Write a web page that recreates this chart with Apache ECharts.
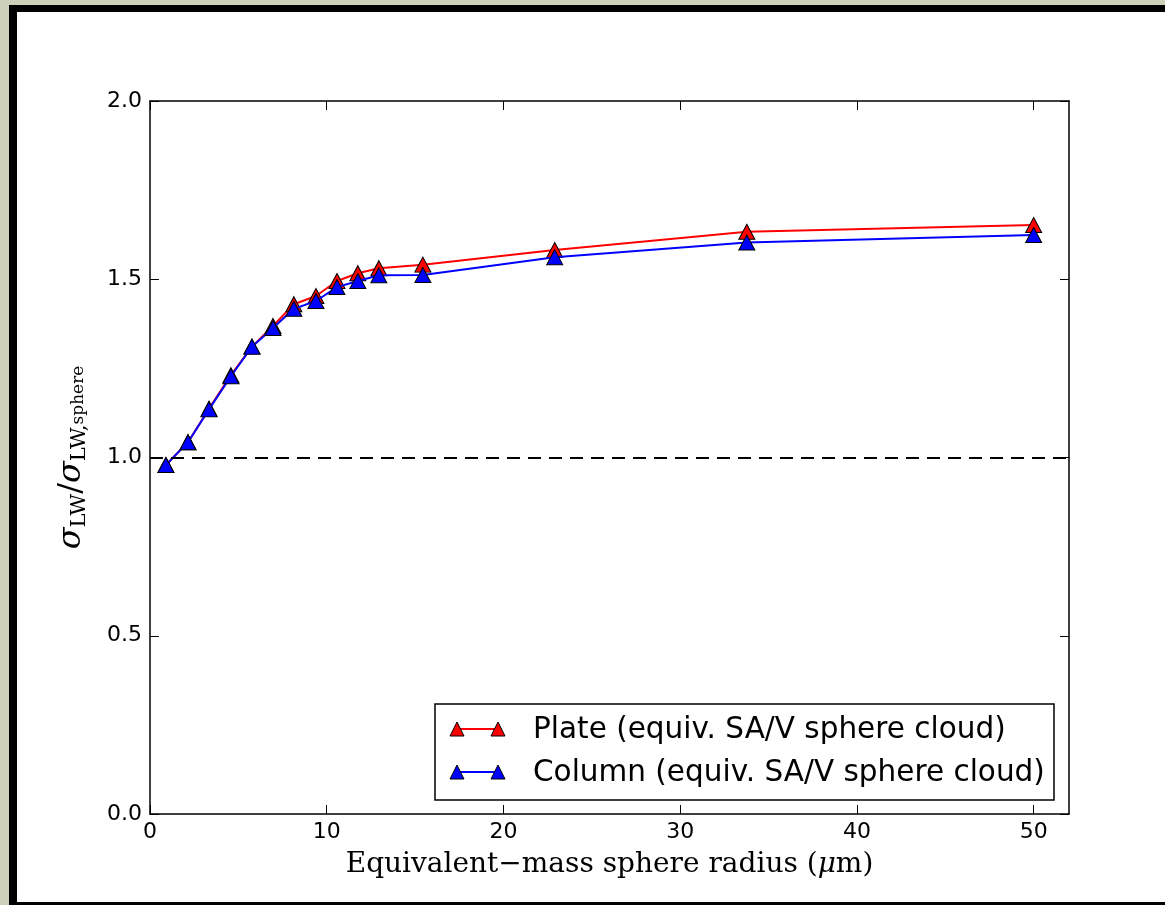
<!DOCTYPE html>
<html>
<head>
<meta charset="utf-8">
<script src="https://cdn.jsdelivr.net/npm/echarts@6/dist/echarts.min.js"></script>
<style>
    body { margin: 0; background: #cdd1b9; }
    #frame {
        position: absolute; left: 9px; top: 5px; width: 1156px; height: 900px;
        box-sizing: border-box; background: #fff;
        border-left: 8px solid #000; border-top: 7px solid #000; border-bottom: 3px solid #000;
    }
    #chart { position: absolute; left: 0; top: 0; width: 1165px; height: 905px; }
</style>
</head>
<body>
<div id="frame"></div>
<div id="chart"></div>
<script>
// 粒子半径 (um)
var radius = [0.9, 2.15, 3.34, 4.58, 5.77, 6.96, 8.14, 9.39, 10.58, 11.76, 12.95, 15.44, 22.9, 33.77, 50];
// 两条曲线
var plate = [0.979, 1.043, 1.137, 1.231, 1.311, 1.369, 1.430, 1.453, 1.495, 1.517, 1.531, 1.541, 1.582, 1.633, 1.652];
var column = [0.979, 1.043, 1.135, 1.228, 1.311, 1.363, 1.417, 1.439, 1.478, 1.495, 1.511, 1.512, 1.562, 1.603, 1.624];
var xTicks = [0, 10, 20, 30, 40, 50];
var yTicks = [0, 0.5, 1.0, 1.5, 2.0];

function pairs(ys) {
    return radius.map(function (x, i) { return [x, ys[i]]; });
}

var chart = echarts.init(document.getElementById('chart'));
var tickFont = { fontFamily: 'DejaVu Sans', fontSize: 22, color: '#000' };
var serif = 'DejaVu Serif';
var axLine = { show: true, onZero: false, lineStyle: { color: '#000', width: 1.5 } };
var tick = { show: true, inside: true, length: 9, lineStyle: { color: '#000', width: 1 } };

var option = {
    animation: false,
    grid: { left: 150, right: 96, top: 101, bottom: 91 },
    xAxis: [
        {
            type: 'value', min: 0, max: 52, position: 'bottom',
            axisLine: axLine,
            axisTick: Object.assign({ customValues: xTicks }, tick),
            axisLabel: Object.assign({ margin: 7, customValues: xTicks, formatter: function (v) { return v; } }, tickFont),
            splitLine: { show: false },
            name: 'Equivalent\u2212mass sphere radius ({i|\u03bc}m)',
            nameLocation: 'middle', nameGap: 37,
            nameTextStyle: {
                fontFamily: serif, fontSize: 28, color: '#000',
                rich: { i: { fontFamily: serif, fontStyle: 'italic', fontSize: 28, color: '#000' } }
            }
        },
        {
            type: 'value', min: 0, max: 52, position: 'top',
            axisLine: axLine,
            axisTick: Object.assign({ customValues: xTicks }, tick),
            axisLabel: { show: false },
            splitLine: { show: false }
        }
    ],
    yAxis: [
        {
            type: 'value', min: 0, max: 2, interval: 0.5, position: 'left',
            axisLine: axLine,
            axisTick: Object.assign({ customValues: yTicks }, tick),
            axisLabel: Object.assign({ margin: 8, customValues: yTicks, formatter: function (v) { return v.toFixed(1); } }, tickFont),
            splitLine: { show: false },
            name: '{s|\u03c3}{b|LW}{n|/}{s|\u03c3}{b|LW,}{c|sphere}',
            nameLocation: 'middle', nameRotate: 90, nameGap: 58,
            nameTextStyle: {
                rich: {
                    s: { fontFamily: serif, fontStyle: 'italic', fontSize: 32, color: '#000', lineHeight: 40 },
                    n: { fontFamily: serif, fontSize: 32, color: '#000', lineHeight: 40 },
                    b: { fontFamily: serif, fontSize: 21, color: '#000', lineHeight: 40, padding: [16, 0, 0, 0] },
                    c: { fontFamily: serif, fontSize: 17, color: '#000', lineHeight: 40, padding: [14, 0, 0, 0] }
                }
            }
        },
        {
            type: 'value', min: 0, max: 2, interval: 0.5, position: 'right',
            axisLine: axLine,
            axisTick: Object.assign({ customValues: yTicks }, tick),
            axisLabel: { show: false },
            splitLine: { show: false }
        }
    ],
    series: [
        {
            name: 'Plate (equiv. SA/V sphere cloud)',
            type: 'line',
            data: pairs(plate),
            symbol: 'triangle', symbolSize: [16, 15],
            lineStyle: { color: '#ff0000', width: 2 },
            itemStyle: { color: '#ff0000', borderColor: '#000', borderWidth: 1 },
            z: 3,
            markLine: {
                silent: true, symbol: 'none',
                label: { show: false },
                lineStyle: { color: '#000', type: [13, 8], width: 2 },
                data: [{ yAxis: 1.0 }]
            }
        },
        {
            name: 'Column (equiv. SA/V sphere cloud)',
            type: 'line',
            data: pairs(column),
            symbol: 'triangle', symbolSize: [16, 15],
            lineStyle: { color: '#0000ff', width: 2 },
            itemStyle: { color: '#0000ff', borderColor: '#000', borderWidth: 1 },
            z: 4
        }
    ],
    // 图例 (matplotlib 风格: 两个标记中间连线)
    graphic: [
        { type: 'rect', shape: { x: 435, y: 704, width: 619, height: 96 },
          style: { fill: '#fff', stroke: '#000', lineWidth: 1.5 }, z: 10 },
        { type: 'line', shape: { x1: 457, y1: 729, x2: 498, y2: 729 }, style: { stroke: '#ff0000', lineWidth: 2 }, z: 11 },
        { type: 'polygon', shape: { points: [[457, 722], [450, 736], [464, 736]] }, style: { fill: '#ff0000', stroke: '#000', lineWidth: 1 }, z: 12 },
        { type: 'polygon', shape: { points: [[498, 722], [491, 736], [505, 736]] }, style: { fill: '#ff0000', stroke: '#000', lineWidth: 1 }, z: 12 },
        { type: 'text', x: 533, y: 730, style: { text: 'Plate (equiv. SA/V sphere cloud)', fontFamily: 'DejaVu Sans', fontSize: 29.5, fill: '#000', verticalAlign: 'middle' }, z: 12 },
        { type: 'line', shape: { x1: 457, y1: 772, x2: 498, y2: 772 }, style: { stroke: '#0000ff', lineWidth: 2 }, z: 11 },
        { type: 'polygon', shape: { points: [[457, 765], [450, 779], [464, 779]] }, style: { fill: '#0000ff', stroke: '#000', lineWidth: 1 }, z: 12 },
        { type: 'polygon', shape: { points: [[498, 765], [491, 779], [505, 779]] }, style: { fill: '#0000ff', stroke: '#000', lineWidth: 1 }, z: 12 },
        { type: 'text', x: 533, y: 773, style: { text: 'Column (equiv. SA/V sphere cloud)', fontFamily: 'DejaVu Sans', fontSize: 29.5, fill: '#000', verticalAlign: 'middle' }, z: 12 }
    ]
};

chart.setOption(option);
</script>
</body>
</html>
